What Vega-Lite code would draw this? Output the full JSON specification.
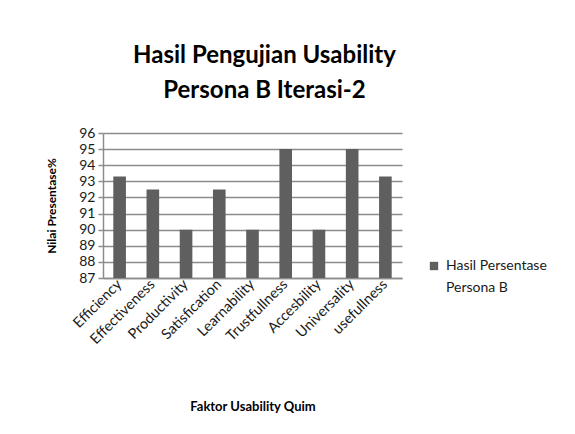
{
  "$schema": "https://vega.github.io/schema/vega-lite/v6.json",
  "width": 299,
  "height": 145,
  "autosize": {"type": "none"},
  "padding": {"left": 103, "top": 133, "right": 173, "bottom": 156},
  "background": "white",
  "title": {
    "text": ["Hasil Pengujian Usability", "Persona B Iterasi-2"],
    "font": "Lato",
    "fontSize": 24,
    "fontWeight": "bold",
    "color": "#000000",
    "lineHeight": 35,
    "anchor": "middle",
    "frame": "group",
    "dx": 12,
    "offset": 23
  },
  "data": {
    "values": [
      {"faktor": "Efficiency", "nilai": 93.3, "seri": "Hasil Persentase Persona B"},
      {"faktor": "Effectiveness", "nilai": 92.5, "seri": "Hasil Persentase Persona B"},
      {"faktor": "Productivity", "nilai": 90, "seri": "Hasil Persentase Persona B"},
      {"faktor": "Satisfication", "nilai": 92.5, "seri": "Hasil Persentase Persona B"},
      {"faktor": "Learnability", "nilai": 90, "seri": "Hasil Persentase Persona B"},
      {"faktor": "Trustfullness", "nilai": 95, "seri": "Hasil Persentase Persona B"},
      {"faktor": "Accesbility", "nilai": 90, "seri": "Hasil Persentase Persona B"},
      {"faktor": "Universality", "nilai": 95, "seri": "Hasil Persentase Persona B"},
      {"faktor": "usefullness", "nilai": 93.3, "seri": "Hasil Persentase Persona B"}
    ]
  },
  "mark": {"type": "bar", "clip": true},
  "encoding": {
    "x": {
      "field": "faktor",
      "type": "nominal",
      "sort": null,
      "scale": {"paddingInner": 0.62, "paddingOuter": 0.31},
      "axis": {
        "title": "Faktor Usability Quim",
        "titleFont": "Lato",
        "titleFontSize": 13,
        "titleFontWeight": "bold",
        "titleColor": "#000000",
        "titlePadding": 54,
        "labelAngle": -45,
        "labelAlign": "right",
        "labelBaseline": "middle",
        "labelFont": "Lato",
        "labelFontSize": 14.5,
        "labelColor": "#1a1a1a",
        "labelPadding": 4,
        "ticks": false,
        "domainColor": "#8c8c8c",
        "domainWidth": 1.5
      }
    },
    "y": {
      "field": "nilai",
      "type": "quantitative",
      "scale": {"domain": [87, 96], "nice": false, "zero": false},
      "axis": {
        "title": "Nilai Presentase%",
        "titleFont": "Lato",
        "titleFontSize": 12,
        "titleFontWeight": "bold",
        "titleColor": "#000000",
        "titlePadding": 20,
        "values": [87, 88, 89, 90, 91, 92, 93, 94, 95, 96],
        "labelFont": "Lato",
        "labelFontSize": 14,
        "labelColor": "#1a1a1a",
        "labelPadding": 3,
        "tickSize": 5,
        "tickColor": "#8c8c8c",
        "tickWidth": 1.5,
        "domainColor": "#8c8c8c",
        "domainWidth": 1.5,
        "grid": true,
        "gridColor": "#8c8c8c",
        "gridWidth": 1.5
      }
    },
    "color": {
      "field": "seri",
      "type": "nominal",
      "scale": {"range": ["#5f5f5f"]},
      "legend": {
        "title": null,
        "orient": "none",
        "legendX": 324,
        "legendY": 126,
        "symbolType": "square",
        "symbolSize": 70,
        "labelFont": "Lato",
        "labelFontSize": 14,
        "labelColor": "#1a1a1a",
        "labelLimit": 200,
        "labelExpr": "['Hasil Persentase', 'Persona B']"
      }
    }
  },
  "config": {"view": {"stroke": null}, "style": {"guide-label": {"lineHeight": 22}}, "legend": {"labelOffset": 5}}
}
